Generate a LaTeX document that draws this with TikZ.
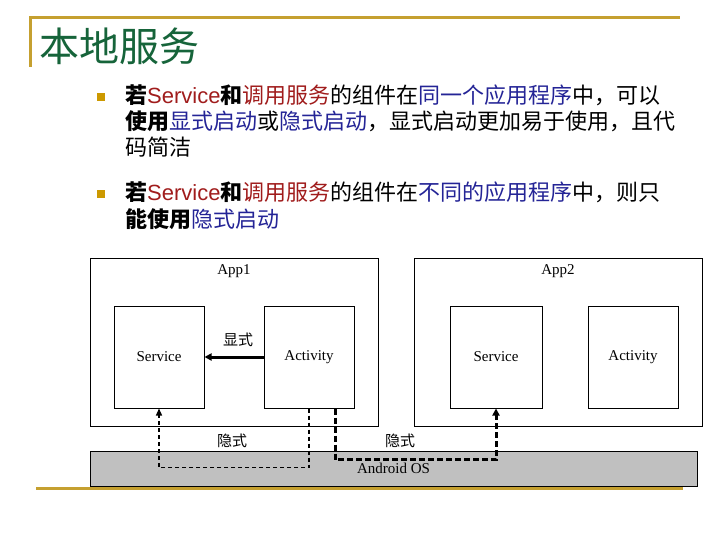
\documentclass[tikz,border=0pt]{standalone}
\usepackage{fontspec}
\setmainfont{Liberation Sans}
\newfontfamily\serifen{Liberation Serif}
\newfontfamily\cjk{Noto Sans CJK SC}
\usetikzlibrary{arrows.meta}
\definecolor{gold}{RGB}{197,160,48}
\definecolor{bulletc}{RGB}{204,153,0}
\definecolor{titlegreen}{RGB}{22,100,58}
\definecolor{dred}{RGB}{160,28,28}
\definecolor{dblue}{RGB}{36,36,150}
\definecolor{osgray}{RGB}{192,192,192}
\newcommand\zhb[1]{{\cjk\bfseries #1}}
\newcommand\zhn[1]{{\cjk #1}}
\newcommand\zhr[1]{{\color{dred}\cjk #1}}
\newcommand\zhu[1]{{\color{dblue}\cjk #1}}
\newcommand\enr[1]{{\color{dred}#1}}
\begin{document}
\begin{tikzpicture}[x=1pt,y=-1pt,
  goldline/.style={draw=gold,line width=3pt},
  bodyline/.style={anchor=base west,inner sep=0pt,font=\fontsize{22}{26}\selectfont},
  bulletsq/.style={fill=bulletc,minimum size=8pt,inner sep=0pt},
  appbox/.style={draw=black,line width=1pt,fill=white,minimum width=288pt,minimum height=168pt,inner sep=0pt},
  compbox/.style={draw=black,line width=1pt,fill=white,minimum width=90pt,minimum height=102pt,inner sep=0pt,font=\serifen\fontsize{15}{18}\selectfont},
  lbl/.style={inner sep=0pt,font=\serifen\fontsize{15}{18}\selectfont},
  zhlbl/.style={inner sep=0pt,font=\cjk\fontsize{15}{18}\selectfont},
  osbar/.style={draw=black,line width=1pt,fill=osgray,minimum width=607pt,minimum height=35pt,inner sep=0pt,font=\serifen\fontsize{15}{18}\selectfont},
  explicitarrow/.style={line width=3pt,-{Triangle[length=7pt,width=7pt]}},
  implicitthin/.style={line width=1.3pt,dash pattern=on 4pt off 3pt,-{Triangle[length=7pt,width=6pt]}},
  implicitthick/.style={line width=3pt,dash pattern=on 6pt off 3pt,-{Triangle[length=7pt,width=7pt]}}
]
\useasboundingbox (0,0) rectangle (720,540);
% title frame
\draw[goldline] (30,67) -- (30,18) -- (680,18);
\node[anchor=base west,inner sep=0pt,text=titlegreen,font=\cjk\fontsize{40}{44}\selectfont] (title) at (39,62) {本地服务};
% bullets
\node[bulletsq] (b1) at (101,97) {};
\node[bodyline] (l1) at (125,104) {\zhb{若}\enr{Service}\zhb{和}\zhr{调用服务}\zhn{的组件在}\zhu{同一个应用程序}\zhn{中，可以}};
\node[bodyline] (l2) at (125,130) {\zhb{使用}\zhu{显式启动}\zhn{或}\zhu{隐式启动}\zhn{，显式启动更加易于使用，且代}};
\node[bodyline] (l3) at (125,156) {\zhn{码简洁}};
\node[bulletsq] (b2) at (101,194) {};
\node[bodyline] (l4) at (125,201) {\zhb{若}\enr{Service}\zhb{和}\zhr{调用服务}\zhn{的组件在}\zhu{不同的应用程序}\zhn{中，则只}};
\node[bodyline] (l5) at (125,228) {\zhb{能使用}\zhu{隐式启动}};
% bottom gold line
\draw[goldline] (36,488) -- (683,488);
% apps
\node[appbox] (app1) at (234,342) {};
\node[appbox] (app2) at (558,342) {};
\node[lbl] (app1lbl) at (234,271) {App1};
\node[lbl] (app2lbl) at (558,271) {App2};
\node[compbox] (svc1) at (159,357) {Service};
\node[compbox] (act1) at (309,357) {Activity};
\node[compbox,minimum width=92pt] (svc2) at (496,357) {Service};
\node[compbox] (act2) at (633,357) {Activity};
% OS bar
\node[osbar] (os) at (393.5,468.5) {Android OS};
% connectors
\draw[explicitarrow] (act1.west) -- (svc1.east);
\node[zhlbl] (explbl) at (238,340) {显式};
\draw[implicitthin] (act1.south) -- ++(0,59) -| (svc1.south);
\draw[implicitthick] ([xshift=26pt]act1.south) -- ++(0,51) -| (svc2.south);
\node[zhlbl] (implbl1) at (232,441) {隐式};
\node[zhlbl] (implbl2) at (400,441) {隐式};
\end{tikzpicture}
\end{document}
